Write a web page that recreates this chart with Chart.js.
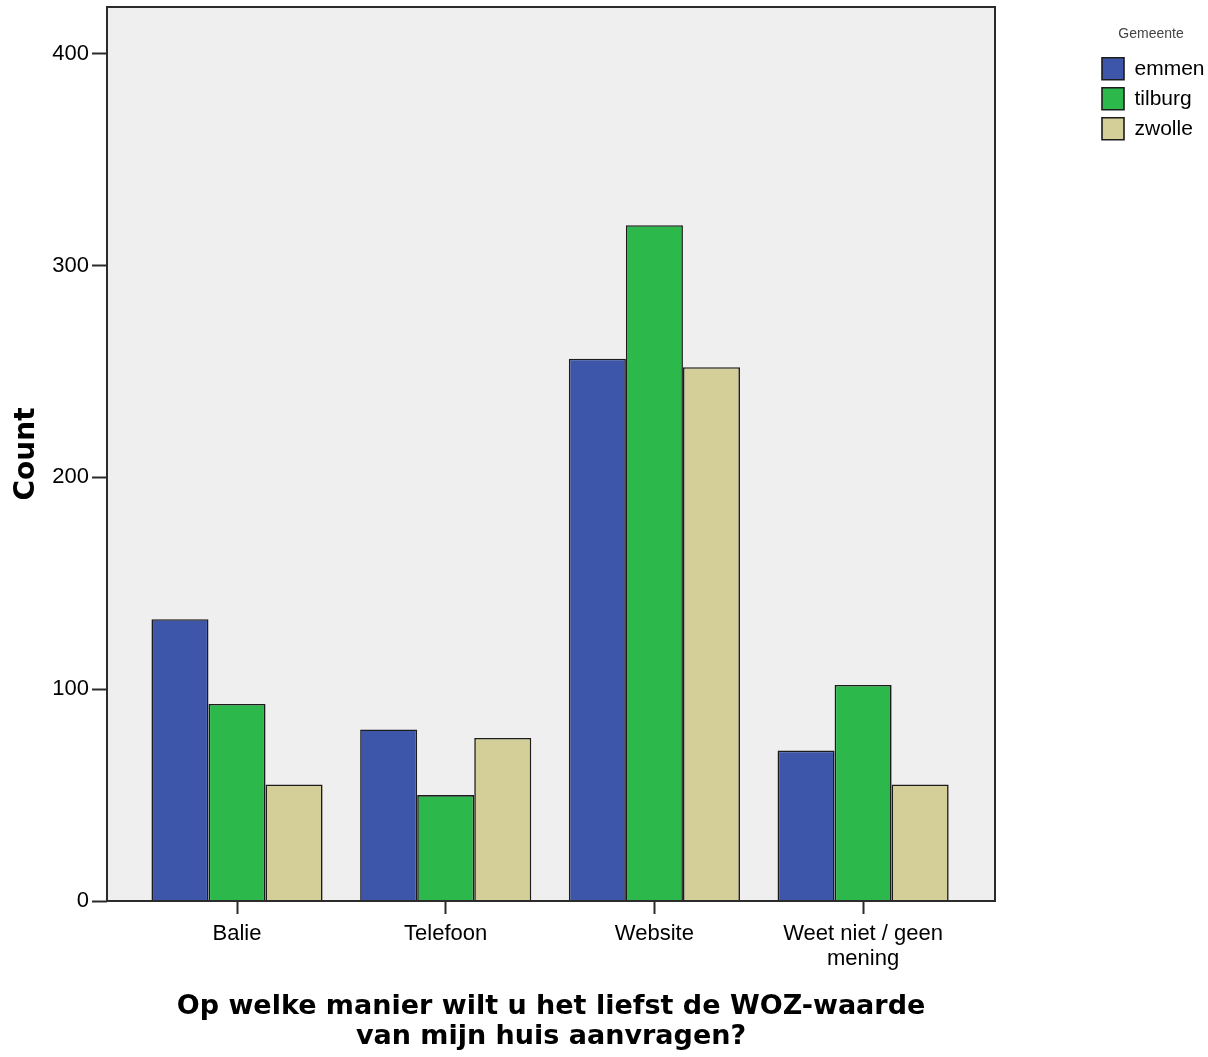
<!DOCTYPE html>
<html>
<head>
<meta charset="utf-8">
<script src="https://cdn.jsdelivr.net/npm/chart.js@4.4.0/dist/chart.umd.min.js"></script>
<style>
	html, body { margin: 0; padding: 0; background: #fff; }
	canvas { display: block; }
</style>
</head>
<body>
<canvas id="chart" width="1208" height="1057"></canvas>
<script>
// answers per municipality, counts
const categories = ['Balie', 'Telefoon', 'Website', ['Weet niet / geen', 'mening']];
const seriesNames = ['emmen', 'tilburg', 'zwolle'];
const emmen = [133, 81, 256, 71];
const tilburg = [93, 50, 319, 102];
const zwolle = [55, 77, 252, 55];
const yTicks = [0, 100, 200, 300, 400];

const colors = ['#3d56aa', '#2db84b', '#d4cf98'];
const plotLeft = 107;
const plotRight = 995;
const plotBottom = 901;

const plotFrame = {
	id: 'plotFrame',
	beforeDatasetsDraw(chart) {
		const { ctx, chartArea } = chart;
		ctx.save();
		ctx.fillStyle = '#efefef';
		ctx.fillRect(chartArea.left, chartArea.top, chartArea.width, chartArea.height);
		ctx.restore();
	},
	afterDatasetsDraw(chart) {
		const { ctx, chartArea } = chart;
		ctx.save();
		ctx.strokeStyle = '#2b2b2b';
		ctx.lineWidth = 2;
		ctx.strokeRect(chartArea.left, chartArea.top, chartArea.width, chartArea.height);
		ctx.restore();
	},
};

function toPoints(values) {
	return values.map((value, index) => ({ x: index, y: value }));
}

const datasets = [emmen, tilburg, zwolle].map((values, index) => ({
	label: seriesNames[index],
	data: toPoints(values),
	backgroundColor: colors[index],
	borderColor: '#1c1c1c',
	borderWidth: 1.6,
	categoryPercentage: 0.82,
	barPercentage: 1,
}));

const tickFont = { family: "'Liberation Sans', Arial, sans-serif", size: 22 };
const legendFont = { family: "'Liberation Sans', Arial, sans-serif", size: 21 };
const boldFont = { family: "'DejaVu Sans', Verdana, sans-serif", weight: 'bold' };

new Chart(document.getElementById('chart'), {
	type: 'bar',
	data: { datasets },
	plugins: [plotFrame],
	options: {
		responsive: false,
		animation: false,
		devicePixelRatio: 1,
		layout: { padding: { top: 7, left: 0, right: 0, bottom: 0 } },
		plugins: {
			tooltip: { enabled: false },
			legend: {
				position: 'right',
				align: 'start',
				maxWidth: 114,
				title: {
					display: true,
					text: 'Gemeente',
					color: '#444',
					font: { family: "'Liberation Sans', Arial, sans-serif", size: 14 },
					padding: { top: 20, bottom: 6 },
				},
				labels: {
					color: '#000',
					font: legendFont,
					boxWidth: 22,
					boxHeight: 22,
					padding: 8,
				},
			},
		},
		scales: {
			x: {
				type: 'linear',
				offset: false,
				min: -0.623,
				max: 3.632,
				afterFit(scale) {
					scale.height = scale.chart.height - plotBottom;
					scale.paddingLeft = 0;
					scale.paddingRight = 0;
				},
				afterBuildTicks(scale) {
					scale.ticks = categories.map((_, index) => ({ value: index }));
				},
				ticks: {
					stepSize: 1,
					includeBounds: false,
					color: '#000',
					font: { ...tickFont, lineHeight: 1.14 },
					padding: 7,
					maxRotation: 0,
					autoSkip: false,
					callback: (value) => categories[value],
				},
				grid: {
					offset: false,
					drawOnChartArea: false,
					drawTicks: true,
					tickLength: 13,
					tickColor: '#2b2b2b',
					tickWidth: 2,
				},
				border: { display: false },
				title: {
					display: true,
					text: ['Op welke manier wilt u het liefst de WOZ-waarde', 'van mijn huis aanvragen?'],
					color: '#000',
					font: { ...boldFont, size: 27, lineHeight: 1.12 },
					padding: { top: 0, bottom: 5 },
				},
			},
			y: {
				min: 0,
				max: 422,
				afterFit(scale) {
					scale.width = plotLeft;
					scale.paddingTop = 0;
					scale.paddingBottom = 0;
				},
				afterBuildTicks(scale) {
					scale.ticks = yTicks.map((value) => ({ value }));
				},
				ticks: {
					stepSize: 100,
					includeBounds: false,
					color: '#000',
					font: tickFont,
					padding: 3,
				},
				grid: {
					drawOnChartArea: false,
					drawTicks: true,
					tickLength: 15,
					tickColor: '#2b2b2b',
					tickWidth: 2,
				},
				border: { display: false },
				title: {
					display: true,
					text: 'Count',
					color: '#000',
					font: { ...boldFont, size: 28 },
					padding: { top: 10, bottom: 0 },
				},
			},
			yRight: {
				position: 'right',
				display: true,
				afterFit(scale) {
					scale.width = Math.max(0, scale.chart.width - plotRight - scale.chart.legend.width);
					scale.paddingTop = 0;
					scale.paddingBottom = 0;
				},
				ticks: { display: false },
				grid: { display: false },
				border: { display: false },
			},
		},
	},
});
</script>
</body>
</html>
